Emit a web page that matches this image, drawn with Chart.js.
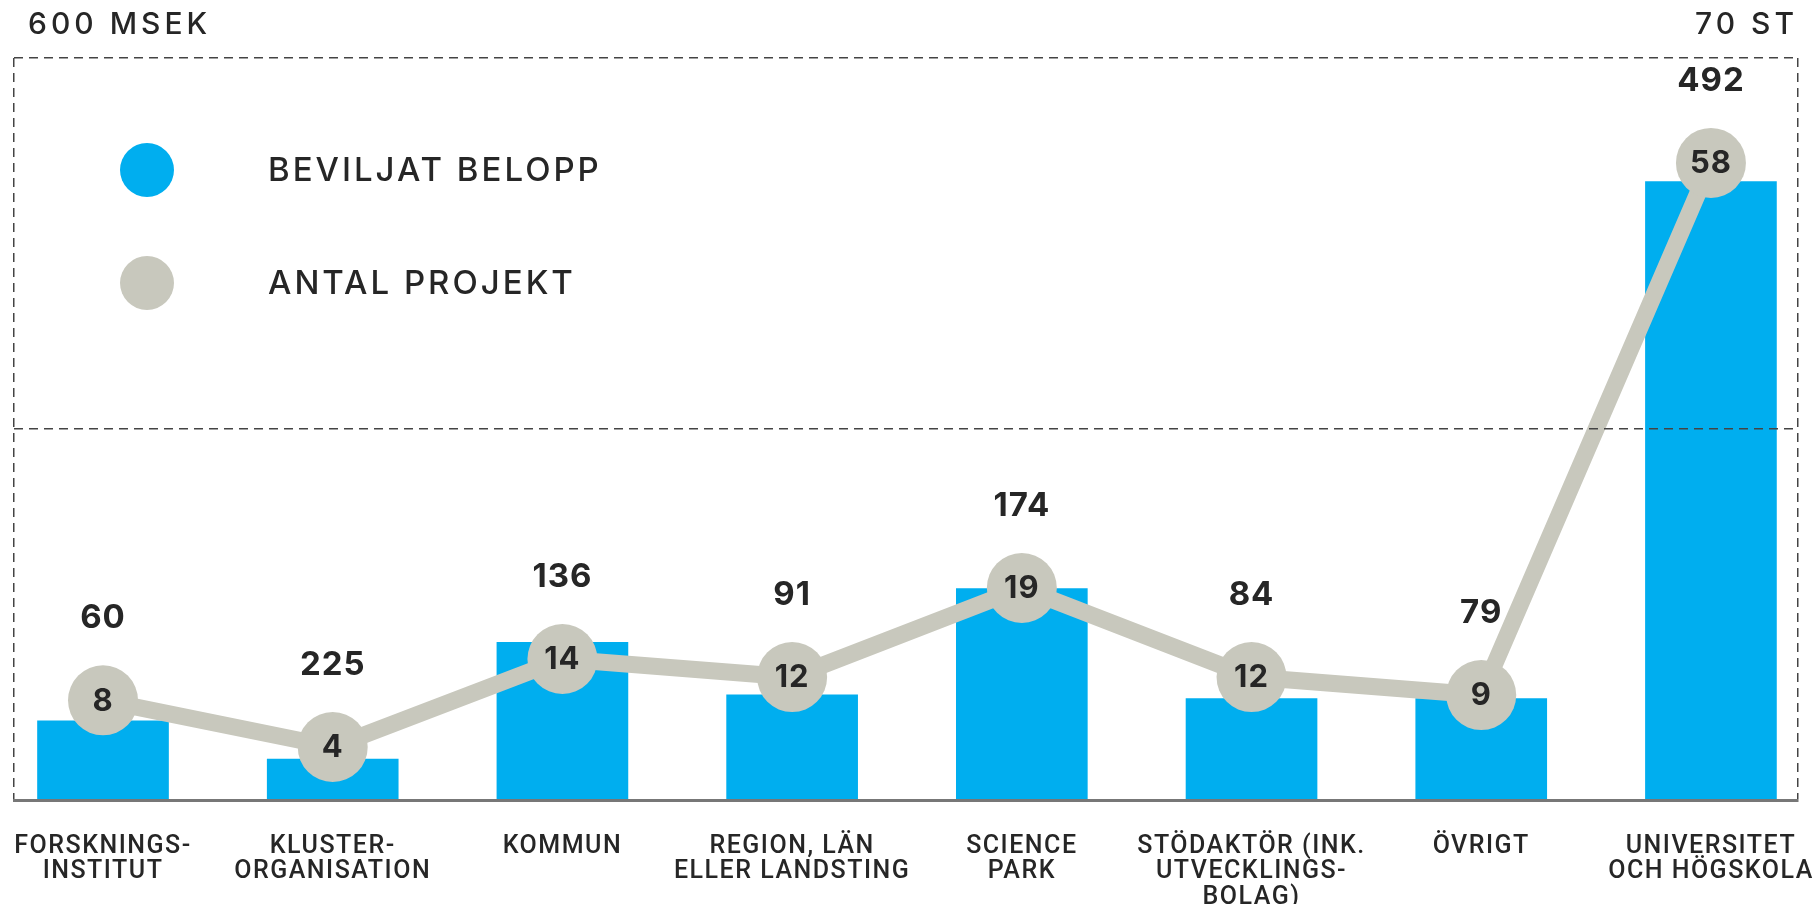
<!DOCTYPE html>
<html>
<head>
<meta charset="utf-8">
<script src="https://cdn.jsdelivr.net/npm/chart.js@4"></script>
<style>
  html, body { margin: 0; padding: 0; background: #fff; }
</style>
</head>
<body>
<canvas id="chart" width="1816" height="904"></canvas>
<script>
// Categories (multi-line x labels)
const categories = [
  ["FORSKNINGS-", "INSTITUT"],
  ["KLUSTER-", "ORGANISATION"],
  ["KOMMUN"],
  ["REGION, LÄN", "ELLER LANDSTING"],
  ["SCIENCE", "PARK"],
  ["STÖDAKTÖR (INK.", "UTVECKLINGS-", "BOLAG)"],
  ["ÖVRIGT"],
  ["UNIVERSITET", "OCH HÖGSKOLA"]
];

// Bar heights as drawn in the picture (MSEK), and the amounts printed above them
const beloppValues = [64, 33, 127.5, 85, 171, 82, 82, 500];
const beloppLabels = ["60", "225", "136", "91", "174", "84", "79", "492"];

// Point heights as drawn (st), and the counts printed in the circles
const antalValues = [9.4, 5.0, 13.3, 11.6, 20.0, 11.6, 9.9, 60.1];
const antalLabels = ["8", "4", "14", "12", "19", "12", "9", "58"];

const beloppTicks = [0, 300, 600];
const antalTicks = [0, 70];
const beloppAxisLabel = "600 MSEK";
const antalAxisLabel = "70 ST";
const seriesNames = ["BEVILJAT BELOPP", "ANTAL PROJEKT"];

const BLUE = "#00AEEF";
const GREY = "#C8C8BD";
const INK = "#262626";

// numbers on the points + legend; also sets letter spacing for the axis texts
const annotate = {
  id: "annotate",
  beforeDraw(chart) {
    chart.ctx.letterSpacing = "1.5px";
  },
  afterDatasetsDraw(chart) {
    const ctx = chart.ctx;
    const pts = chart.getDatasetMeta(1).data;
    ctx.save();
    ctx.letterSpacing = "1px";
    ctx.fillStyle = INK;
    ctx.textAlign = "center";
    ctx.textBaseline = "middle";
    pts.forEach((pt, i) => {
      ctx.font = "700 31px Inter";
      ctx.fillText(antalLabels[i], pt.x, pt.y + 1);
      ctx.font = "700 33px Inter";
      ctx.fillText(beloppLabels[i], pt.x, pt.y - 82);
    });
    ctx.restore();
    // y-axis titles are drawn after this (z: 1)
    ctx.letterSpacing = "4px";
  },
  afterDraw(chart) {
    const ctx = chart.ctx;
    const area = chart.chartArea;
    ctx.save();
    ctx.letterSpacing = "3px";
    ctx.font = "500 33px Inter";
    ctx.textAlign = "left";
    ctx.textBaseline = "middle";
    chart.data.datasets.forEach((ds, i) => {
      const y = area.top + 112 + i * 113;
      ctx.fillStyle = i === 0 ? BLUE : GREY;
      ctx.beginPath();
      ctx.arc(area.left + 133, y, 27, 0, Math.PI * 2);
      ctx.fill();
      ctx.fillStyle = INK;
      ctx.fillText(ds.label, area.left + 254, y + 1);
    });
    ctx.restore();
    ctx.letterSpacing = "0px";
  }
};

const noVerticalPadding = (axis) => {
  axis.paddingTop = 0;
  axis.paddingBottom = 0;
};

new Chart(document.getElementById("chart"), {
  type: "bar",
  data: {
    datasets: [
      {
        type: "bar",
        label: seriesNames[0],
        data: beloppValues.map((v, i) => ({ x: i, y: v })),
        backgroundColor: BLUE,
        barThickness: 131,
        yAxisID: "y",
        order: 1
      },
      {
        type: "line",
        label: seriesNames[1],
        data: antalValues.map((v, i) => ({ x: i, y: v })),
        borderColor: GREY,
        backgroundColor: GREY,
        borderWidth: 17,
        pointRadius: 35,
        pointHoverRadius: 35,
        pointBackgroundColor: GREY,
        pointBorderWidth: 0,
        tension: 0,
        clip: false,
        yAxisID: "y2",
        order: 0
      }
    ]
  },
  options: {
    responsive: false,
    animation: false,
    events: [],
    layout: { autoPadding: false, padding: { left: -14, right: 18, top: 58, bottom: -39.5 } },
    plugins: { legend: { display: false }, tooltip: { enabled: false } },
    scales: {
      x: {
        type: "linear",
        min: -0.3875,
        max: 7.379,
        offset: false,
        afterBuildTicks: (axis) => {
          axis.ticks = [axis.min, ...categories.map((c, i) => i), axis.max].map((v) => ({ value: v }));
        },
        afterFit: (axis) => {
          axis.paddingLeft = 0;
          axis.paddingRight = 0;
        },
        grid: {
          offset: false,
          drawTicks: false,
          lineWidth: 1.5,
          color: (c) => (Number.isInteger(c.tick && c.tick.value) ? "transparent" : "#444")
        },
        border: { display: true, color: "#777", width: 3, dash: [9, 6], z: 1 },
        ticks: {
          autoSkip: false,
          maxRotation: 0,
          padding: 33.5,
          color: INK,
          font: { family: "Roboto", size: 25, weight: "500", lineHeight: 1.02 },
          callback: (v) => (Number.isInteger(v) ? categories[v] : "")
        }
      },
      y: {
        position: "left",
        min: 0,
        max: beloppTicks[beloppTicks.length - 1],
        afterBuildTicks: (axis) => {
          axis.ticks = beloppTicks.map((v) => ({ value: v }));
        },
        afterFit: noVerticalPadding,
        grid: {
          z: 1,
          drawTicks: false,
          lineWidth: 1.5,
          color: (c) => (c.tick && c.tick.value === 0 ? "transparent" : "#444")
        },
        border: { display: false, dash: [9, 6] },
        ticks: {
          z: 1,
          mirror: true,
          padding: 14,
          labelOffset: -33,
          color: INK,
          font: { family: "Inter", size: 30, weight: "500" },
          callback: (v) => (v === beloppTicks[beloppTicks.length - 1] ? beloppAxisLabel : "")
        }
      },
      y2: {
        position: "right",
        min: 0,
        max: antalTicks[antalTicks.length - 1],
        afterBuildTicks: (axis) => {
          axis.ticks = antalTicks.map((v) => ({ value: v }));
        },
        afterFit: noVerticalPadding,
        grid: { display: false, drawTicks: false },
        border: { display: false },
        ticks: {
          z: 1,
          mirror: true,
          padding: 0,
          labelOffset: -33,
          color: INK,
          font: { family: "Inter", size: 30, weight: "500" },
          callback: (v) => (v === antalTicks[antalTicks.length - 1] ? antalAxisLabel : "")
        }
      }
    }
  },
  plugins: [annotate]
});
</script>
</body>
</html>
